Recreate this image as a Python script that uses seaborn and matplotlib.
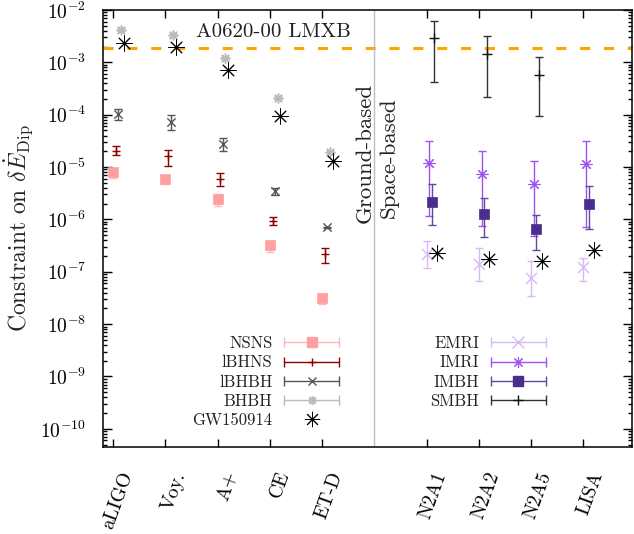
import numpy as np
import pandas as pd
import matplotlib
matplotlib.use("Agg")
import matplotlib.pyplot as plt
import matplotlib.transforms as mtransforms
from matplotlib.lines import Line2D
from matplotlib.legend_handler import HandlerLine2D
from matplotlib.ticker import LogLocator, NullFormatter, FixedLocator
import seaborn as sns

# detectors
ground = ['aLIGO', 'Voy.', 'A+', 'CE', 'ET-D']
space = ['N2A1', 'N2A2', 'N2A5', 'LISA']

# ground-based populations (value, lower, upper)
nsns = [8.2e-6, 6.0e-6, 2.5e-6, 3.3e-7, 3.2e-8]
nsns_lo = [6.3e-6, 4.8e-6, 1.84e-6, 2.43e-7, 2.45e-8]
nsns_hi = [9.8e-6, 7.0e-6, 3.0e-6, 3.9e-7, 3.7e-8]

lbhns = [2.07e-5, 1.62e-5, 6.0e-6, 9.5e-7, 2.2e-7]
lbhns_lo = [1.73e-5, 1.07e-5, 4.4e-6, 7.9e-7, 1.48e-7]
lbhns_hi = [2.58e-5, 2.16e-5, 7.85e-6, 1.13e-6, 2.88e-7]

lbhbh = [1.05e-4, 7.1e-5, 2.8e-5, 3.55e-6, 7.1e-7]
lbhbh_lo = [8.1e-5, 5.2e-5, 2.07e-5, 2.98e-6, 6.9e-7]
lbhbh_hi = [1.31e-4, 1.0e-4, 3.66e-5, 4.05e-6, 7.3e-7]

bhbh = [4.2e-3, 3.3e-3, 1.19e-3, 2.13e-4, 1.9e-5]
bhbh_lo = [3.9e-3, 3.05e-3, 1.1e-3, 1.97e-4, 1.75e-5]
bhbh_hi = [4.5e-3, 3.55e-3, 1.28e-3, 2.3e-4, 2.05e-5]

gw_ground = [2.37e-3, 2.0e-3, 7.3e-4, 9.6e-5, 1.29e-5]
gw_space = [2.3e-7, 1.76e-7, 1.58e-7, 2.6e-7]

# space-based populations (value, lower, upper)
emri = [2.2e-7, 1.4e-7, 7.6e-8, 1.25e-7]
emri_lo = [1.17e-7, 6.6e-8, 3.5e-8, 6.6e-8]
emri_hi = [3.9e-7, 2.8e-7, 1.58e-7, 1.8e-7]

imri = [1.18e-5, 7.3e-6, 4.8e-6, 1.12e-5]
imri_lo = [1.15e-6, 7.5e-7, 4.8e-7, 7.3e-7]
imri_hi = [3.2e-5, 2.0e-5, 1.32e-5, 3.1e-5]

imbh = [2.16e-6, 1.27e-6, 6.6e-7, 2.0e-6]
imbh_lo = [7.9e-7, 4.6e-7, 2.65e-7, 6.6e-7]
imbh_hi = [4.7e-6, 2.57e-6, 1.22e-6, 4.4e-6]

smbh = [2.9e-3, 1.46e-3, 5.8e-4, np.nan]
smbh_lo = [4.2e-4, 2.16e-4, 9.3e-5, np.nan]
smbh_hi = [6.3e-3, 3.2e-3, 1.26e-3, np.nan]

lmxb_bound = 1.85e-3
y_decades = [1e-10, 1e-9, 1e-8, 1e-7, 1e-6, 1e-5, 1e-4, 1e-3, 1e-2]

sns.set_theme(style="ticks")
plt.rcParams.update({
    'font.family': 'cmr10',
    'mathtext.fontset': 'cm',
    'axes.formatter.use_mathtext': True,
    'axes.unicode_minus': False,
    'axes.linewidth': 1.1,
    'axes.edgecolor': 'black',
    'xtick.color': 'black',
    'ytick.color': 'black',
    'text.color': '#222222',
})

fig = plt.figure(figsize=(6.34, 5.34), dpi=100)
ax = fig.add_axes([102.7 / 634, 87 / 534, 529.3 / 634, 437 / 534])
ax.set_yscale('log')

gpos = np.arange(1, 6)
spos = np.arange(7, 11)
star = (8, 2, 0)


def draw(xpos, val, lo, hi, marker, color, ecolor, ms, z, mlw=1.0):
    val = np.asarray(val, float)
    if lo is not None:
        lo = np.asarray(lo, float)
        hi = np.asarray(hi, float)
        ax.errorbar(xpos, val, yerr=[val - lo, hi - val], fmt='none', ecolor=ecolor,
                    elinewidth=1.0, capsize=3, capthick=1.0, zorder=z)
    df = pd.DataFrame({'x': xpos, 'y': val})
    if marker == 's':
        sns.scatterplot(data=df, x='x', y='y', marker='s', color=color, s=ms ** 2,
                        edgecolor=color, linewidth=0.5, ax=ax, legend=False, zorder=z + 0.5)
    else:
        sns.scatterplot(data=df, x='x', y='y', marker=marker, color=color, s=ms ** 2,
                        linewidth=mlw, ax=ax, legend=False, zorder=z + 0.5)


ax.axhline(lmxb_bound, color='#FFA500', lw=2.2, dashes=(3.3, 4.5), zorder=1)
ax.axvline(6, color='#BDBDBD', lw=1, zorder=1)

c_nsns, e_nsns = '#FFA0A0', '#FFB8B8'
c_lbhns = '#8B0000'
c_lbhbh = '#555555'
c_bhbh = '#BBBBBB'
c_emri = '#D9B8F7'
c_imri = '#A052F0'
c_imbh, e_imbh = '#4A2D8F', '#5E4A9C'
c_smbh = '#111111'

draw(gpos + 0.00, nsns, nsns_lo, nsns_hi, 's', c_nsns, e_nsns, 7.8, 3)
draw(gpos + 0.05, lbhns, lbhns_lo, lbhns_hi, '+', c_lbhns, c_lbhns, 6, 4)
draw(gpos + 0.10, lbhbh, lbhbh_lo, lbhbh_hi, 'x', c_lbhbh, c_lbhbh, 6, 5)
draw(gpos + 0.15, bhbh, bhbh_lo, bhbh_hi, star, c_bhbh, c_bhbh, 6.5, 6, mlw=1.1)

draw(spos + 0.00, emri, emri_lo, emri_hi, 'x', c_emri, c_emri, 8, 3)
draw(spos + 0.05, imri, imri_lo, imri_hi, star, c_imri, c_imri, 8, 4, mlw=0.8)
draw(spos + 0.10, imbh, imbh_lo, imbh_hi, 's', c_imbh, e_imbh, 7.5, 5)
draw(spos + 0.15, smbh, smbh_lo, smbh_hi, '+', c_smbh, '#333333', 7, 6)

draw(np.concatenate([gpos, spos]) + 0.20, gw_ground + gw_space, None, None,
     star, 'black', 'black', 11, 7, mlw=0.7)

ax.set_xlim(0.8, 10.93)
ax.set_ylim(4.5e-11, 1e-2)

ax.set_xticks(list(gpos) + list(spos))
ax.set_xticklabels(ground + space, fontsize=14)
ax.yaxis.set_major_locator(FixedLocator(y_decades))
ax.yaxis.set_minor_locator(LogLocator(base=10, subs=np.arange(2, 10), numticks=20))
ax.yaxis.set_minor_formatter(NullFormatter())
ax.tick_params(axis='both', which='both', direction='in', top=True, right=True, width=1.0)
ax.tick_params(axis='y', which='major', length=6.5, pad=12, labelsize=14)
ax.tick_params(axis='y', which='minor', length=3.2)
ax.tick_params(axis='x', which='major', length=5.8, pad=18)

offset = mtransforms.ScaledTranslation(15 / 100, 0, fig.dpi_scale_trans)
for lab in ax.get_xticklabels():
    lab.set_rotation(70)
    lab.set_ha('right')
    lab.set_va('center')
    lab.set_rotation_mode('anchor')
    lab.set_transform(lab.get_transform() + offset)

ax.set_xlabel('')
ax.set_ylabel(r'Constraint on $\delta\dot{E}_{\rm Dip}$', fontsize=17)
ax.yaxis.set_label_coords(-0.126, 0.5)

ax.text(0.3217, 0.95, 'A0620-00 LMXB', transform=ax.transAxes, ha='center', va='center', fontsize=15)
ax.text(0.4956, 0.674, 'Ground-based', transform=ax.transAxes, rotation=90,
        ha='center', va='center', fontsize=16.5)
ax.text(0.541, 0.6625, 'Space-based', transform=ax.transAxes, rotation=90,
        ha='center', va='center', fontsize=16.5)


def handle(color, ecolor, marker, ms, mlw=1.0, bar=True):
    pt = Line2D([], [], linestyle='none', marker=marker, color=color, markersize=ms,
                markeredgewidth=mlw)
    if not bar:
        return pt, {}
    line = Line2D([], [], color=ecolor, lw=1.0, marker='|', markersize=7, markeredgewidth=1.0)
    return (line, pt), {line: HandlerLine2D(numpoints=2, marker_pad=0)}


def make_legend(entries, anchor):
    handles, labels, hmap = [], [], {}
    for lab, args in entries:
        h, m = handle(*args)
        handles.append(h)
        labels.append(lab)
        hmap.update(m)
    return ax.legend(handles, labels, handler_map=hmap, loc='upper right', bbox_to_anchor=anchor,
                     frameon=False, markerfirst=False, handlelength=3.3, handletextpad=0.7,
                     labelspacing=0.23, borderpad=0, borderaxespad=0, fontsize=12, numpoints=1)


leg1 = make_legend([
    ('NSNS', (c_nsns, e_nsns, 's', 7.8)),
    ('lBHNS', (c_lbhns, c_lbhns, '+', 6)),
    ('lBHBH', (c_lbhbh, c_lbhbh, 'x', 6)),
    ('BHBH', (c_bhbh, c_bhbh, star, 6.5, 1.1)),
    ('GW150914', ('black', 'black', star, 11, 0.7, False)),
], (0.4465, 0.254))
ax.add_artist(leg1)
make_legend([
    ('EMRI', (c_emri, c_emri, 'x', 8)),
    ('IMRI', (c_imri, c_imri, star, 8, 0.8)),
    ('IMBH', (c_imbh, e_imbh, 's', 7.5)),
    ('SMBH', (c_smbh, '#333333', '+', 7)),
], (0.8375, 0.254))

fig.savefig('out.png', dpi=100)
